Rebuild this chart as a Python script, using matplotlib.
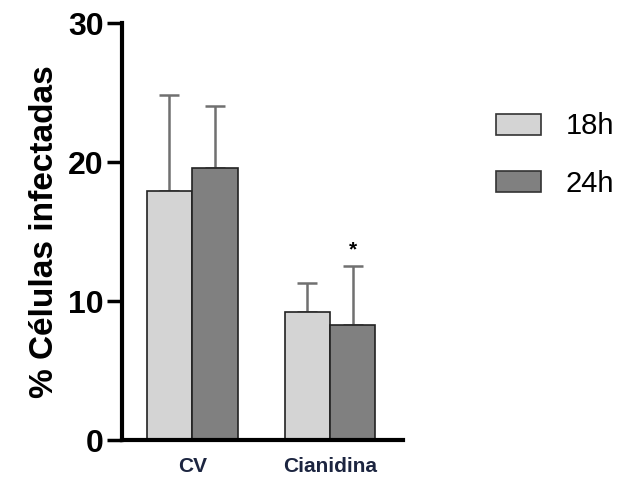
import numpy as np
import matplotlib.pyplot as plt
from matplotlib.patches import Patch

plt.rcParams['font.family'] = ['Liberation Sans', 'DejaVu Sans']

groups = ["CV", "Cianidina"]
series = ["18h", "24h"]
means = {"18h": [17.9, 9.2], "24h": [19.6, 8.3]}
errs = {"18h": [6.9, 2.1], "24h": [4.4, 4.2]}
colors = {"18h": "#d4d4d4", "24h": "#808080"}

fig = plt.figure(figsize=(6.22, 4.8), dpi=100)
ax = fig.add_axes([0.196, 0.083, 0.452, 0.869])

x = np.arange(len(groups))
w = 0.33
for i, s in enumerate(series):
    pos = x + (i - 0.5) * w
    ax.bar(pos, means[s], width=w, color=colors[s], edgecolor="#222222", linewidth=1.2, zorder=2)
    ax.errorbar(pos, means[s], yerr=[np.zeros(len(groups)), errs[s]], fmt="none",
                ecolor="#707070", elinewidth=1.8, capsize=7, capthick=1.8, zorder=1)

# significance marker
ax.text(x[1] + 0.5 * w, means["24h"][1] + errs["24h"][1] + 0.5, "*", ha="center", va="bottom",
        fontsize=15, fontweight="bold")

ax.set_xlim(-0.51, 1.53)
ax.set_ylim(0, 30)
ax.set_yticks([0, 10, 20, 30])
ax.set_xticks(x)
ax.set_xticklabels(groups, fontsize=15, fontweight="bold", color="#1c2540")
ax.tick_params(axis="x", length=0, pad=12)
ax.tick_params(axis="y", length=11, width=2.5, labelsize=23, pad=2)
for lab in ax.get_yticklabels():
    lab.set_fontweight("bold")
ax.set_ylabel("% Células infectadas", fontsize=24, fontweight="bold", labelpad=6)

for side in ["top", "right"]:
    ax.spines[side].set_visible(False)
for side in ["left", "bottom"]:
    ax.spines[side].set_linewidth(3)

handles = [Patch(facecolor=colors[s], edgecolor="#333333", linewidth=1.2) for s in series]
fig.legend(handles, series, loc="center left", bbox_to_anchor=(0.778, 0.677), frameon=False,
           borderaxespad=0, fontsize=21, handlelength=1.55, handleheight=0.75,
           labelspacing=1.0, handletextpad=0.85)

fig.savefig("out.png", dpi=100)
